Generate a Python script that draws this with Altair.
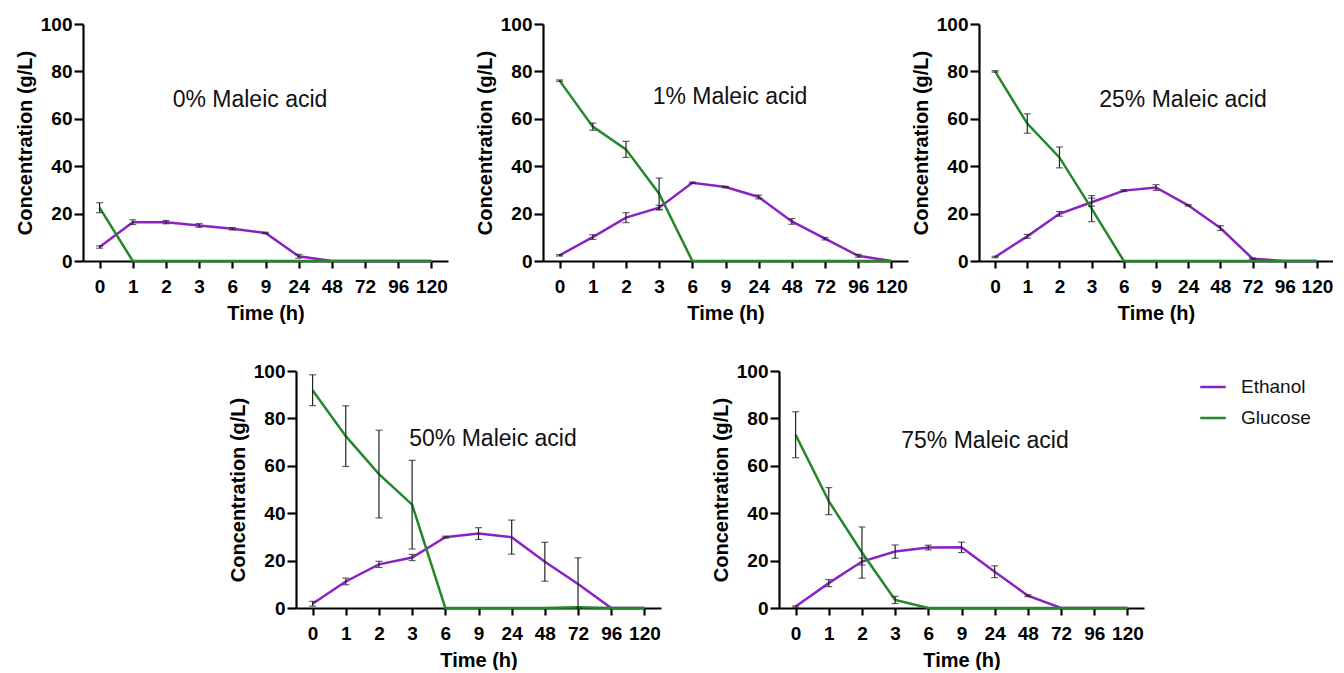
import altair as alt
import pandas as pd

times = ["0", "1", "2", "3", "6", "9", "24", "48", "72", "96", "120"]
series = ["Ethanol", "Glucose"]
colors = ["#8B22C2", "#22882A"]
panels = ["0% Maleic acid", "1% Maleic acid", "25% Maleic acid", "50% Maleic acid", "75% Maleic acid"]

eth_0 = [5.9, 16.4, 16.4, 15.0, 13.6, 11.8, 2.0, 0, 0, 0, 0]
eth_0_err = [0.5, 1.0, 0.7, 0.8, 0.5, 0.3, 0.8, 0, 0, 0, 0]
glu_0 = [22.5, 0, 0, 0, 0, 0, 0, 0, 0, 0, 0]
glu_0_err = [2.1, 0, 0, 0, 0, 0, 0, 0, 0, 0, 0]

eth_1 = [2.4, 10.1, 18.3, 22.5, 33.0, 31.2, 27.0, 16.7, 9.4, 2.2, 0]
eth_1_err = [0.3, 1.0, 2.1, 1.0, 0.3, 0.3, 0.8, 1.2, 0.5, 0.6, 0]
glu_1 = [76.1, 56.7, 47.1, 28.4, 0, 0, 0, 0, 0, 0, 0]
glu_1_err = [0.3, 1.5, 3.4, 6.6, 0, 0, 0, 0, 0, 0, 0]

eth_25 = [1.7, 10.4, 19.9, 24.8, 29.7, 31.0, 23.5, 13.9, 1.0, 0, 0]
eth_25_err = [0.3, 0.8, 1.0, 1.7, 0.4, 1.2, 0.3, 1.0, 0.3, 0, 0]
glu_25 = [80.0, 58.0, 43.7, 22.1, 0, 0, 0, 0, 0, 0, 0]
glu_25_err = [0.3, 4.1, 4.4, 5.5, 0, 0, 0, 0, 0, 0, 0]

eth_50 = [1.8, 11.2, 18.4, 21.3, 29.9, 31.4, 29.9, 19.5, 10.1, 0, 0]
eth_50_err = [1.0, 1.4, 1.3, 1.3, 0.4, 2.5, 7.2, 8.2, 11.1, 0, 0]
glu_50 = [91.9, 72.5, 56.5, 43.6, 0, 0, 0, 0, 0.3, 0, 0]
glu_50_err = [6.5, 12.8, 18.5, 18.7, 0, 0, 0, 0, 0, 0, 0]

eth_75 = [0.6, 10.5, 19.6, 23.8, 25.5, 25.6, 15.3, 5.2, 0, 0, 0]
eth_75_err = [0.3, 1.5, 1.5, 2.8, 1.0, 2.2, 2.5, 0.4, 0, 0, 0]
glu_75 = [73.1, 45.1, 23.4, 3.4, 0, 0, 0, 0, 0, 0, 0]
glu_75_err = [9.7, 5.7, 10.8, 1.5, 0, 0, 0, 0, 0, 0, 0]

panel_data = [
    (eth_0, eth_0_err, glu_0, glu_0_err),
    (eth_1, eth_1_err, glu_1, glu_1_err),
    (eth_25, eth_25_err, glu_25, glu_25_err),
    (eth_50, eth_50_err, glu_50, glu_50_err),
    (eth_75, eth_75_err, glu_75, glu_75_err),
]

# layout only: plot widths and label placement inside each plot area (pixels)
widths = [365, 365, 354, 365, 365]
label_pos = [(167, 76), (187, 73), (204, 76), (197, 68), (206, 70)]

H = 237
FONT = "Liberation Sans"

color_enc = alt.Color(
    "series:N",
    scale=alt.Scale(domain=series, range=colors),
    legend=alt.Legend(title=None),
)


def make_panel(i):
    eth, eth_err, glu, glu_err = panel_data[i]
    rows = []
    for s, vals, errs in (("Ethanol", eth, eth_err), ("Glucose", glu, glu_err)):
        for t, v, e in zip(times, vals, errs):
            rows.append({"time": t, "series": s, "value": v, "err": e,
                         "lo": max(v - e, 0), "hi": v + e})
    df = pd.DataFrame(rows)
    base = alt.Chart(df)
    x = alt.X("time:N", sort=times, title="Time (h)",
              scale=alt.Scale(type="point", padding=0.5),
              axis=alt.Axis(labelAngle=0))
    y = alt.Y("value:Q", title="Concentration (g/L)",
              scale=alt.Scale(domain=[0, 100], nice=False),
              axis=alt.Axis(values=[0, 20, 40, 60, 80, 100], grid=False))
    lines = base.mark_line(strokeWidth=2.5).encode(x=x, y=y, color=color_enc)
    eb = base.transform_filter("datum.err > 0")
    rule = eb.mark_rule(color="#222222", strokeWidth=1.2).encode(
        x=alt.X("time:N", sort=times), y="lo:Q", y2="hi:Q")
    cap_lo = eb.mark_tick(color="#222222", thickness=1.2, size=7).encode(
        x=alt.X("time:N", sort=times), y="lo:Q")
    cap_hi = eb.mark_tick(color="#222222", thickness=1.2, size=7).encode(
        x=alt.X("time:N", sort=times), y="hi:Q")
    lx, ly = label_pos[i]
    label = alt.Chart(pd.DataFrame({"t": [panels[i]]})).mark_text(
        font=FONT, fontSize=23, color="#111111", align="center", baseline="middle"
    ).encode(text="t:N", x=alt.value(lx), y=alt.value(ly))
    return alt.layer(lines, rule, cap_lo, cap_hi, label).properties(width=widths[i], height=H)


def spacer(w):
    return alt.Chart(pd.DataFrame({"a": [0]})).mark_point(opacity=0).encode(
        x=alt.value(0), y=alt.value(0)).properties(width=w, height=H)


top = alt.HConcatChart(
    hconcat=[make_panel(0), spacer(95), make_panel(1), spacer(71), make_panel(2)],
    spacing=0, bounds="flush")
bottom = alt.HConcatChart(
    hconcat=[spacer(213), make_panel(3), spacer(118), make_panel(4)],
    spacing=0, bounds="flush")

chart = alt.VConcatChart(
    vconcat=[top, bottom], spacing=H + 110, bounds="flush",
    padding={"left": 7, "top": 7, "right": 0, "bottom": 0},
).configure_view(
    stroke=None
).configure_axis(
    domainColor="black", domainWidth=2.2, tickColor="black", tickWidth=2.2,
    labelFont=FONT, labelFontSize=19, labelFontWeight="bold", labelColor="black",
    titleFont=FONT, titleFontSize=20, titleFontWeight="bold", titleColor="black",
).configure_axisX(
    tickSize=7, labelPadding=9, titlePadding=7,
).configure_axisY(
    tickSize=9, labelPadding=2, titlePadding=5,
).configure_legend(
    orient="none", legendX=1116, legendY=349,
    symbolType="stroke", symbolStrokeWidth=2.5, symbolSize=650,
    labelFont=FONT, labelFontSize=19, labelColor="#111111", labelOffset=14,
    rowPadding=7,
)

chart.save("out.html", embed_options={"renderer": "svg", "actions": False})
